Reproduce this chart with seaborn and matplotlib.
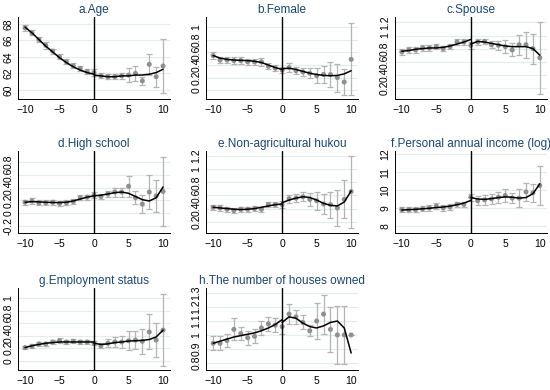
import numpy as np
import pandas as pd
import matplotlib
matplotlib.use("Agg")
import matplotlib.pyplot as plt
import seaborn as sns

# =======================
# Datos
# =======================
x_vals = list(range(-10, 11))
x_left = list(range(-10, 1))
x_right = list(range(0, 11))

titles = ["a.Age", "b.Female", "c.Spouse", "d.High school",
          "e.Non-agricultural hukou", "f.Personal annual income (log)",
          "g.Employment status", "h.The number of houses owned"]

age_pt = [67.5, 66.9, 66.1, 65.4, 64.7, 64.0, 63.4, 62.9, 62.6, 62.2, 62.1,
          61.7, 61.6, 61.6, 61.7, 61.8, 62.0, 61.1, 63.1, 61.6, 62.9]
age_err = [0.35, 0.3, 0.3, 0.4, 0.3, 0.3, 0.3, 0.3, 0.3, 0.3, 0.4,
           0.3, 0.3, 0.3, 0.4, 0.8, 0.9, 0.5, 1.3, 1.2, 3.3]
age_fit_l = [67.6, 66.9, 66.1, 65.3, 64.6, 63.9, 63.3, 62.8, 62.4, 62.1, 61.9]
age_fit_r = [61.8, 61.7, 61.6, 61.6, 61.7, 61.7, 61.8, 61.8, 61.9, 62.1, 62.5]

fem_pt = [0.55, 0.48, 0.48, 0.47, 0.47, 0.45, 0.45, 0.45, 0.38, 0.35, 0.32,
          0.36, 0.31, 0.29, 0.27, 0.23, 0.25, 0.25, 0.20, 0.13, 0.49]
fem_err = [0.05, 0.05, 0.05, 0.05, 0.05, 0.05, 0.05, 0.06, 0.05, 0.05, 0.05,
           0.07, 0.06, 0.07, 0.08, 0.12, 0.13, 0.20, 0.22, 0.20, 0.57]
fem_fit_l = [0.55, 0.51, 0.49, 0.48, 0.475, 0.47, 0.46, 0.44, 0.40, 0.36, 0.33]
fem_fit_r = [0.34, 0.35, 0.33, 0.30, 0.27, 0.25, 0.235, 0.23, 0.235, 0.26, 0.31]

spo_pt = [0.75, 0.78, 0.78, 0.81, 0.81, 0.83, 0.80, 0.83, 0.90, 0.90, 0.85,
          0.90, 0.91, 0.86, 0.85, 0.83, 0.78, 0.86, 0.86, 0.80, 0.66]
spo_err = [0.04, 0.04, 0.04, 0.04, 0.04, 0.04, 0.04, 0.04, 0.04, 0.04, 0.05,
           0.04, 0.04, 0.05, 0.07, 0.10, 0.10, 0.15, 0.20, 0.23, 0.55]
spo_fit_l = [0.76, 0.77, 0.79, 0.80, 0.81, 0.81, 0.82, 0.84, 0.87, 0.90, 0.94]
spo_fit_r = [0.87, 0.91, 0.90, 0.88, 0.86, 0.84, 0.83, 0.83, 0.83, 0.80, 0.70]

hs_pt = [0.17, 0.19, 0.16, 0.16, 0.17, 0.15, 0.16, 0.18, 0.24, 0.25, 0.28,
         0.26, 0.30, 0.33, 0.33, 0.42, 0.24, 0.14, 0.33, 0.27, 0.34]
hs_err = [0.04, 0.04, 0.04, 0.04, 0.04, 0.04, 0.04, 0.04, 0.04, 0.04, 0.05,
          0.04, 0.05, 0.07, 0.07, 0.16, 0.10, 0.14, 0.27, 0.25, 0.54]
hs_fit_l = [0.17, 0.18, 0.175, 0.17, 0.165, 0.165, 0.17, 0.19, 0.22, 0.25, 0.27]
hs_fit_r = [0.27, 0.28, 0.30, 0.32, 0.33, 0.31, 0.26, 0.21, 0.19, 0.24, 0.41]

huk_pt = [0.42, 0.41, 0.39, 0.37, 0.39, 0.39, 0.40, 0.39, 0.46, 0.46, 0.46,
          0.55, 0.56, 0.58, 0.54, 0.52, 0.47, 0.46, 0.41, 0.54, 0.66]
huk_err = [0.04, 0.04, 0.04, 0.04, 0.04, 0.04, 0.04, 0.04, 0.04, 0.04, 0.05,
           0.06, 0.06, 0.07, 0.10, 0.14, 0.16, 0.20, 0.28, 0.29, 0.55]
huk_fit_l = [0.42, 0.41, 0.40, 0.39, 0.385, 0.39, 0.40, 0.42, 0.44, 0.46, 0.47]
huk_fit_r = [0.49, 0.53, 0.56, 0.58, 0.57, 0.53, 0.48, 0.45, 0.44, 0.50, 0.67]

inc_pt = [8.9, 8.9, 8.9, 8.95, 9.0, 9.1, 9.0, 9.05, 9.2, 9.2, 9.6,
          9.4, 9.45, 9.5, 9.6, 9.7, 9.55, 9.55, 9.9, 9.85, 10.25]
inc_err = [0.15, 0.15, 0.15, 0.15, 0.15, 0.15, 0.15, 0.15, 0.15, 0.15, 0.2,
           0.25, 0.3, 0.3, 0.3, 0.35, 0.3, 0.5, 0.5, 0.5, 1.1]
inc_fit_l = [8.88, 8.9, 8.92, 8.95, 8.98, 9.02, 9.05, 9.1, 9.18, 9.27, 9.42]
inc_fit_r = [9.58, 9.5, 9.48, 9.52, 9.58, 9.62, 9.6, 9.55, 9.58, 9.8, 10.35]

emp_pt = [0.21, 0.23, 0.27, 0.27, 0.30, 0.32, 0.30, 0.31, 0.30, 0.30, 0.28,
          0.24, 0.28, 0.30, 0.30, 0.32, 0.33, 0.31, 0.46, 0.33, 0.49]
emp_err = [0.03, 0.03, 0.03, 0.03, 0.03, 0.04, 0.03, 0.03, 0.03, 0.03, 0.03,
           0.04, 0.06, 0.08, 0.10, 0.15, 0.14, 0.20, 0.28, 0.27, 0.58]
emp_fit_l = [0.21, 0.24, 0.26, 0.28, 0.29, 0.30, 0.30, 0.30, 0.30, 0.30, 0.30]
emp_fit_r = [0.28, 0.26, 0.27, 0.29, 0.30, 0.315, 0.32, 0.325, 0.34, 0.38, 0.49]

hou_pt = [0.94, 0.94, 0.96, 1.04, 1.01, 0.98, 0.99, 1.05, 1.08, 1.07, 1.06,
          1.15, 1.13, 1.09, 1.03, 1.10, 1.15, 1.04, 1.00, 1.00, 1.00]
hou_err = [0.05, 0.05, 0.05, 0.08, 0.05, 0.05, 0.05, 0.05, 0.05, 0.05, 0.05,
           0.07, 0.05, 0.05, 0.04, 0.13, 0.14, 0.16, 0.21, 0.21, 0.0]
hou_fit_l = [0.94, 0.955, 0.97, 0.985, 0.995, 1.005, 1.015, 1.03, 1.05, 1.075, 1.11]
hou_fit_r = [1.09, 1.13, 1.12, 1.085, 1.06, 1.05, 1.065, 1.09, 1.10, 1.05, 0.87]

paneles = [
    (age_pt, age_err, age_fit_l, age_fit_r, [60, 62, 64, 66, 68], (58.9, 68.8)),
    (fem_pt, fem_err, fem_fit_l, fem_fit_r, [0, 0.2, 0.4, 0.6, 0.8, 1], (-0.14, 1.16)),
    (spo_pt, spo_err, spo_fit_l, spo_fit_r, [0.2, 0.4, 0.6, 0.8, 1, 1.2], (0.03, 1.28)),
    (hs_pt, hs_err, hs_fit_l, hs_fit_r, [-0.2, 0, 0.2, 0.4, 0.6, 0.8], (-0.31, 0.975)),
    (huk_pt, huk_err, huk_fit_l, huk_fit_r, [0.2, 0.4, 0.6, 0.8, 1, 1.2], (0.03, 1.28)),
    (inc_pt, inc_err, inc_fit_l, inc_fit_r, [8, 9, 10, 11, 12], (7.6, 12.2)),
    (emp_pt, emp_err, emp_fit_l, emp_fit_r, [0, 0.2, 0.4, 0.6, 0.8, 1], (-0.15, 1.16)),
    (hou_pt, hou_err, hou_fit_l, hou_fit_r, [0.8, 0.9, 1, 1.1, 1.2, 1.3], (0.747, 1.336)),
]

# =======================
# Gráfico
# =======================
sns.set_style("white")
plt.rcParams["font.family"] = ["Liberation Sans", "DejaVu Sans"]

fig = plt.figure(figsize=(5.5, 3.9), dpi=100)
col_left = [0.033, 0.375, 0.718]
row_bottom = [0.746, 0.403, 0.051]
ancho, alto = 0.276, 0.21

color_titulo = "#1a476f"

for i, (pt, err, fit_l, fit_r, ticks, ylim) in enumerate(paneles):
    r, c = divmod(i, 3)
    ax = fig.add_axes([col_left[c], row_bottom[r], ancho, alto])

    df = pd.DataFrame({"x": x_vals, "y": pt, "err": err})
    for yt in ticks:
        ax.axhline(yt, color="#e3ecef", lw=0.8, zorder=0)
    ax.errorbar(df["x"], df["y"], yerr=df["err"], fmt="none",
                ecolor="#b4b4b4", elinewidth=0.9, capsize=2.2, capthick=0.9, zorder=2)
    sns.scatterplot(data=df, x="x", y="y", ax=ax, color="#8f8f8f", s=13,
                    edgecolor="none", zorder=3)
    sns.lineplot(x=x_left, y=fit_l, ax=ax, color="black", lw=1.1, zorder=4)
    sns.lineplot(x=x_right, y=fit_r, ax=ax, color="black", lw=1.1, zorder=4)
    ax.axvline(0, color="black", lw=1.0, zorder=5)

    ax.set_xlim(-11, 11)
    ax.set_ylim(*ylim)
    ax.set_xticks([-10, -5, 0, 5, 10])
    ax.set_xticklabels(["\u221210", "\u22125", "0", "5", "10"])
    ax.set_yticks(ticks)
    ax.set_yticklabels([f"{t:g}" for t in ticks], rotation=90, va="center")
    ax.tick_params(axis="both", labelsize=7.5, length=3, width=0.7,
                   direction="out", pad=1.5, colors="black")
    ax.tick_params(axis="y", pad=0.5)
    ax.set_xlabel("")
    ax.set_ylabel("")
    sns.despine(ax=ax)
    for s in ["left", "bottom"]:
        ax.spines[s].set_linewidth(0.7)
        ax.spines[s].set_color("black")
    ax.set_title(titles[i], fontsize=8.5, color=color_titulo, pad=3)

fig.savefig("out.png", dpi=100, facecolor="white")
